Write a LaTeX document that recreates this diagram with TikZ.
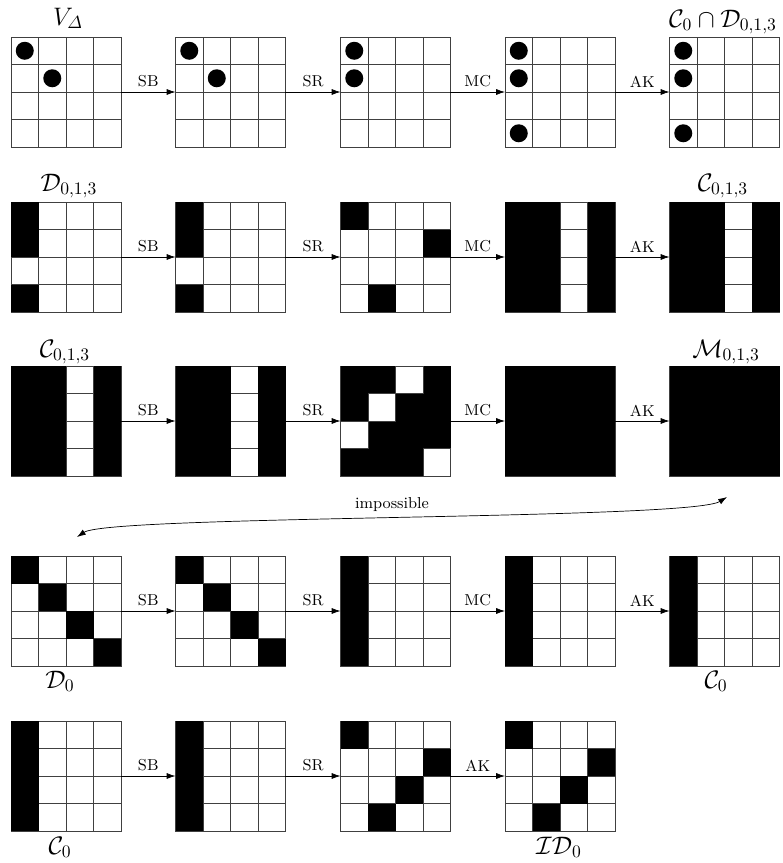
\documentclass[tikz,border=0pt]{standalone}
\usepackage{amsmath, amssymb}
\usepackage{tikz}
\usetikzlibrary{positioning, calc, arrows.meta}
\newcommand\CellW{27.5}

% one 4x4 state, named #1, centred at (#2,#3)
\newcommand\State[3]{%
  \node[statebox] (#1) at (#2,#3) {};
  \foreach \k in {1,2,3} {
    \draw[cell] ($(#1.north west)+(\k*\CellW,0)$) -- ++(0,110);
    \draw[cell] ($(#1.north west)+(0,\k*\CellW)$) -- ++(110,0);
  }
}
% black blocks: row1/col1/row2/col2
\newcommand\Blk[2]{%
  \foreach \ra/\ca/\rb/\cb in {#2}
    \fill ($(#1.north west)+(\ca*\CellW,\ra*\CellW)$) rectangle ($(#1.north west)+(\cb*\CellW+\CellW,\rb*\CellW+\CellW)$);
}
% white cells: row/col
\newcommand\Wht[2]{%
  \foreach \yy/\xx in {#2}
    \filldraw[cell, fill=white] ($(#1.north west)+(\xx*\CellW,\yy*\CellW)$) rectangle ++(\CellW,\CellW);
}
% dots: row/col
\newcommand\Bead[2]{%
  \foreach \yy/\xx in {#2}
    \fill ($(#1.north west)+(\xx*\CellW+0.5*\CellW,\yy*\CellW+0.5*\CellW)$) circle[radius=0.18cm];
}

\tikzset{
  statebox/.style={draw=black!75, line width=0.4pt, minimum size=2.2cm, inner sep=0pt, outer sep=0pt},
  cell/.style={draw=black!75, line width=0.4pt},
  flow/.style={-{Latex[length=5pt,width=3.4pt]}, line width=0.4pt},
  op/.style={above, font=\small, inner sep=2.5pt},
  tag/.style={anchor=base, font=\Large},
}

\begin{document}
\begin{tikzpicture}[x=0.02cm, y=-0.02cm]
  \useasboundingbox (0,0) rectangle (783,863);

  % row 1
  \State{a1}{66}{92}    \Bead{a1}{0/0,1/1}
  \State{a2}{230.5}{92} \Bead{a2}{0/0,1/1}
  \State{a3}{395.5}{92} \Bead{a3}{0/0,1/0}
  \State{a4}{560}{92}   \Bead{a4}{0/0,1/0,3/0}
  \State{a5}{724.5}{92} \Bead{a5}{0/0,1/0,3/0}

  % row 2
  \State{b1}{66}{257}    \Blk{b1}{0/0/1/0,3/0/3/0}
  \State{b2}{230.5}{257} \Blk{b2}{0/0/1/0,3/0/3/0}
  \State{b3}{395.5}{257} \Blk{b3}{0/0/0/0,1/3/1/3,3/1/3/1}
  \State{b4}{560}{257}   \Blk{b4}{0/0/3/1,0/3/3/3}
  \State{b5}{724.5}{257} \Blk{b5}{0/0/3/1,0/3/3/3}

  % row 3
  \State{c1}{66}{421}    \Blk{c1}{0/0/3/1,0/3/3/3}
  \State{c2}{230.5}{421} \Blk{c2}{0/0/3/1,0/3/3/3}
  \State{c3}{395.5}{421} \Blk{c3}{0/0/3/3} \Wht{c3}{0/2,1/1,2/0,3/3}
  \State{c4}{560}{421}   \Blk{c4}{0/0/3/3}
  \State{c5}{724.5}{421} \Blk{c5}{0/0/3/3}

  % row 4
  \State{d1}{66}{611}    \Blk{d1}{0/0/0/0,1/1/1/1,2/2/2/2,3/3/3/3}
  \State{d2}{230.5}{611} \Blk{d2}{0/0/0/0,1/1/1/1,2/2/2/2,3/3/3/3}
  \State{d3}{395.5}{611} \Blk{d3}{0/0/3/0}
  \State{d4}{560}{611}   \Blk{d4}{0/0/3/0}
  \State{d5}{724.5}{611} \Blk{d5}{0/0/3/0}

  % row 5
  \State{e1}{66}{776}    \Blk{e1}{0/0/3/0}
  \State{e2}{230.5}{776} \Blk{e2}{0/0/3/0}
  \State{e3}{395.5}{776} \Blk{e3}{0/0/0/0,1/3/1/3,2/2/2/2,3/1/3/1}
  \State{e4}{560}{776}   \Blk{e4}{0/0/0/0,1/3/1/3,2/2/2/2,3/1/3/1}

  % rounds
  \foreach \r in {a,b,c,d} {
    \draw[flow] (\r1) -- node[op]{SB} (\r2);
    \draw[flow] (\r2) -- node[op]{SR} (\r3);
    \draw[flow] (\r3) -- node[op]{MC} (\r4);
    \draw[flow] (\r4) -- node[op]{AK} (\r5);
  }
  \draw[flow] (e1) -- node[op]{SB} (e2);
  \draw[flow] (e2) -- node[op]{SR} (e3);
  \draw[flow] (e3) -- node[op]{AK} (e4);

  % labels
  \node[tag] (ta1) at (68,25)  {$V_{\varDelta}$};
  \node[tag] (ta5) at (723,27) {$\mathcal{C}_0\cap\mathcal{D}_{0,1,3}$};
  \node[tag] (tb1) at (69,191)  {$\mathcal{D}_{0,1,3}$};
  \node[tag] (tb5) at (723,191) {$\mathcal{C}_{0,1,3}$};
  \node[tag] (tc1) at (65,357)  {$\mathcal{C}_{0,1,3}$};
  \node[tag] (tc5) at (726,357) {$\mathcal{M}_{0,1,3}$};
  \node[tag] (td1) at (60,688)  {$\mathcal{D}_0$};
  \node[tag] (td5) at (716,688) {$\mathcal{C}_0$};
  \node[tag] (te1) at (60,854)  {$\mathcal{C}_0$};
  \node[tag] (te4) at (559,854) {$\mathcal{ID}_0$};

  % impossible
  \coordinate (imp1) at (77,537);
  \coordinate (imp2) at (727,497);
  \draw[{Latex[length=5pt,width=3.4pt]}-{Latex[length=5pt,width=3.4pt]}, line width=0.4pt]
    (imp1) .. controls (110,515) and (690,520) .. (imp2);
  \node[font=\small] (imp) at (392,505) {impossible};
\end{tikzpicture}
\end{document}
